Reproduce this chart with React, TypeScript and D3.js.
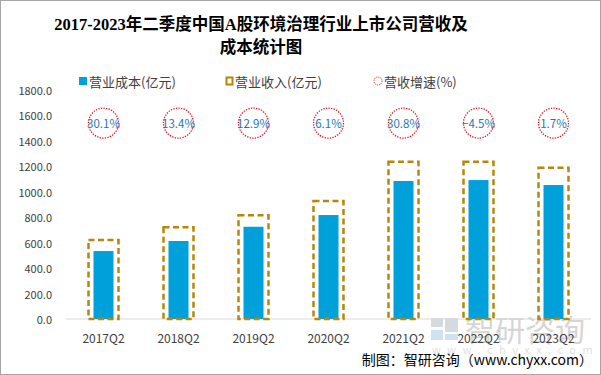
import React from "react";
import * as d3 from "d3";

const categories = ["2017Q2", "2018Q2", "2019Q2", "2020Q2", "2021Q2", "2022Q2", "2023Q2"];
const costValues = [534, 613, 725, 817, 1085, 1092, 1053];
const revenueValues = [621, 721, 815, 927, 1236, 1236, 1189];
const growthValues = [30.1, 13.4, 12.9, 6.1, 30.8, -4.5, 1.7];
const yTicks = [0, 200, 400, 600, 800, 1000, 1200, 1400, 1600, 1800];
const growthLevel = 1540;

const W = 601;
const H = 375;
const BLUE = "#00A0DA";
const GOLD = "#B8860B";
const RED = "#E8131B";
const TXT = "#404040";
const SANS = "'Noto Sans CJK SC', 'Noto Sans', sans-serif";

export default function App() {
  const x = d3.scaleBand<string>().domain(categories).range([66, 591]).paddingInner(0).paddingOuter(0);
  const y = d3.scaleLinear().domain([0, 1800]).range([319, 90]);
  const bw = x.bandwidth();
  const costW = 20;
  const revW = 30;
  const fmt = d3.format(".1f");

  return (
    <svg
      width={W}
      height={H}
      style={{ position: "fixed", left: 0, top: 0, background: "#fff" }}
      fontFamily={SANS}
    >
      <rect x={0.5} y={0.5} width={W - 1} height={H - 1} fill="#fff" stroke="#a6a6a6" />
      {/* Title */}
      <g fontFamily="'Liberation Serif', 'Noto Sans CJK SC', serif" fontWeight="bold" fontSize={16.5} fill="#000" textAnchor="middle">
        <text x={261} y={30}>2017-2023年二季度中国A股环境治理行业上市公司营收及</text>
        <text x={261} y={53}>成本统计图</text>
      </g>

      {/* Legend */}
      <g fontSize={13} fill={TXT}>
        <rect x={79} y={77} width={8} height={8} fill={BLUE} />
        <text x={89} y={81} dominantBaseline="central">营业成本(亿元)</text>
        <rect x={226.5} y={77.5} width={6} height={7} fill="none" stroke={GOLD} strokeWidth={2} />
        <text x={235} y={81} dominantBaseline="central">营业收入(亿元)</text>
        <circle cx={378} cy={81} r={4} fill="none" stroke={RED} strokeWidth={1} strokeDasharray="1,1" />
        <text x={384} y={81} dominantBaseline="central">营收增速(%)</text>
      </g>

      {/* Y axis labels */}
      <g fontSize={11} fill={TXT} textAnchor="end">
        {yTicks.map((t) => (
          <text key={t} x={52} y={y(t)} dominantBaseline="central">{fmt(t)}</text>
        ))}
      </g>

      {/* Watermark */}
      <g opacity={0.55}>
        <rect x={431} y={318} width={12} height={9} fill="#b0bccb" />
        <rect x={445} y={318} width={13} height={14} fill="#b0bccb" />
        <rect x={431} y={330} width={12} height={10} fill="#a9cbe6" />
        <rect x={445} y={334} width={13} height={6} fill="#a9cbe6" />
        <text x={465} y={341} fontSize={30} fill="#b3b3b3">智研咨询</text>
        <text x={432} y={354} fontSize={11} fill="#c8c8c8" letterSpacing={6.5}>www.chyxx.com</text>
      </g>

      {/* Baseline */}
      <line x1={66} x2={591} y1={y(0)} y2={y(0)} stroke="#d9d9d9" strokeWidth={1} />

      {/* Bars */}
      {categories.map((c, i) => {
        const cx = (x(c) ?? 0) + bw / 2;
        return (
          <g key={c}>
            <rect x={cx - costW / 2} y={y(costValues[i])} width={costW} height={y(0) - y(costValues[i])} fill={BLUE} />
            <rect
              x={cx - revW / 2}
              y={y(revenueValues[i])}
              width={revW}
              height={y(0) - y(revenueValues[i])}
              fill="none"
              stroke={GOLD}
              strokeWidth={2.5}
              strokeDasharray="6,3.5"
            />
          </g>
        );
      })}

      {/* Growth circles */}
      {categories.map((c, i) => {
        const cx = (x(c) ?? 0) + bw / 2;
        const cy = y(growthLevel);
        return (
          <g key={"g" + c}>
            <circle cx={cx} cy={cy} r={15} fill="none" stroke={RED} strokeWidth={1.3} strokeDasharray="1.3,1.3" />
            <text x={cx} y={cy} textAnchor="middle" dominantBaseline="central" fontSize={11.5} fill="#1F78B4">
              {fmt(growthValues[i])}%
            </text>
          </g>
        );
      })}

      {/* X labels */}
      <g fontSize={12} fill={TXT} textAnchor="middle">
        {categories.map((c) => (
          <text key={"x" + c} x={(x(c) ?? 0) + bw / 2} y={337} dominantBaseline="central">{c}</text>
        ))}
      </g>

      {/* Source */}
      <text x={593} y={359} textAnchor="end" dominantBaseline="central" fontSize={14} fill="#000"
        fontFamily="'Noto Sans CJK SC', 'Liberation Mono', monospace">
        制图：智研咨询（www.chyxx.com）
      </text>
    </svg>
  );
}
